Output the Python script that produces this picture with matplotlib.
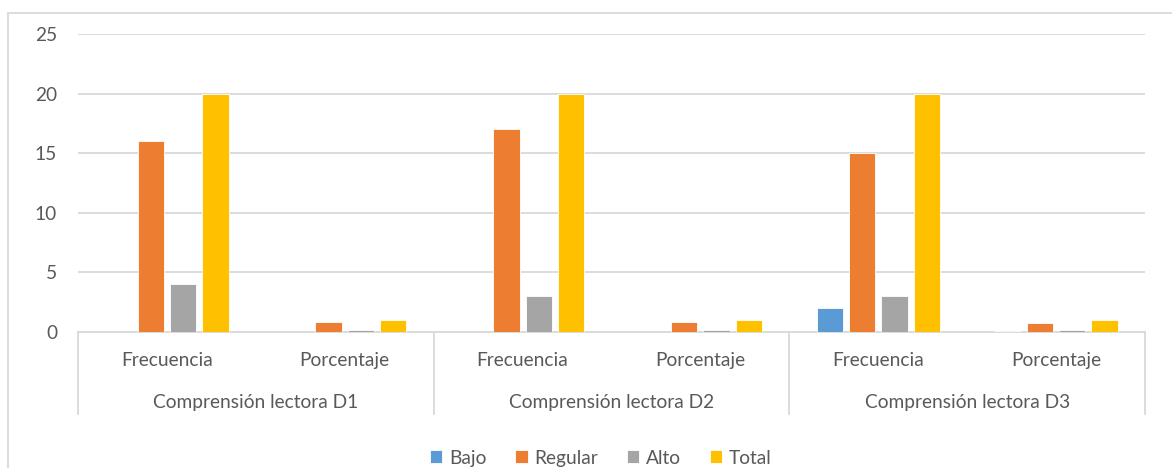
import numpy as np
import matplotlib.pyplot as plt
from matplotlib.patches import Rectangle
from matplotlib.lines import Line2D

groups = ["Comprensión lectora D1", "Comprensión lectora D2", "Comprensión lectora D3"]
measures = ["Frecuencia", "Porcentaje"]
series = ["Bajo", "Regular", "Alto", "Total"]
colors = ["#5B9BD5", "#ED7D31", "#A5A5A5", "#FFC000"]

# one value per (group, measure) in order D1-F, D1-P, D2-F, D2-P, D3-F, D3-P
bajo = [0, 0, 0, 0, 2, 0.1]
regular = [16, 0.8, 17, 0.85, 15, 0.75]
alto = [4, 0.2, 3, 0.15, 3, 0.15]
total = [20, 1, 20, 1, 20, 1]
values = [bajo, regular, alto, total]

plt.rcParams["font.family"] = ["Lato", "DejaVu Sans"]
txt = "#595959"
grid = "#D9D9D9"
fs = 13.8

fig = plt.figure(figsize=(11.72, 4.68), dpi=100)
W, H = 1172, 468
fig.patches.append(Rectangle((8 / W, -0.1), 1.2, 1.1 - 13 / H, transform=fig.transFigure,
                             fill=False, edgecolor=grid, linewidth=1.3))

ax = fig.add_axes([78 / W, 1 - 332 / H, (1145 - 78) / W, (332 - 34) / H])

n_cat = len(bajo)
x = np.arange(n_cat) + 0.5
pitch = 1 / 5.5
bw = 0.148
for i, (name, vals, c) in enumerate(zip(series, values, colors)):
    ax.bar(x + (i - 1.5) * pitch, vals, width=bw, color=c, edgecolor="white",
           linewidth=0.6, label=name, zorder=3)

ax.set_xlim(0, n_cat)
ax.set_ylim(0, 25)
ax.set_yticks(range(0, 26, 5))
ax.yaxis.grid(True, color=grid, linewidth=1.3, zorder=0)
for s in ["top", "right", "left"]:
    ax.spines[s].set_visible(False)
ax.spines["bottom"].set_color(grid)
ax.spines["bottom"].set_linewidth(1.3)
ax.tick_params(axis="y", length=0, labelsize=fs, labelcolor=txt, pad=15)
ax.set_xticks([])

tr = ax.get_xaxis_transform()
for k in range(n_cat):
    ax.text(x[k], -0.094, measures[k % 2], transform=tr, ha="center", va="center",
            fontsize=fs, color=txt)
for g, name in enumerate(groups):
    ax.text(2 * g + 1, -0.235, name, transform=tr, ha="center", va="center",
            fontsize=fs, color=txt)
for b in range(0, n_cat + 1, 2):
    ax.add_line(Line2D([b, b], [0, -0.275], transform=tr, color=grid,
                       linewidth=1.3, clip_on=False))

ax.legend(loc="center", bbox_to_anchor=(0.49, -0.423), ncol=4, frameon=False,
          fontsize=fs, labelcolor=txt, handlelength=0.65, handleheight=0.65,
          handletextpad=0.35, columnspacing=1.5)

fig.savefig("out.png", dpi=100)
